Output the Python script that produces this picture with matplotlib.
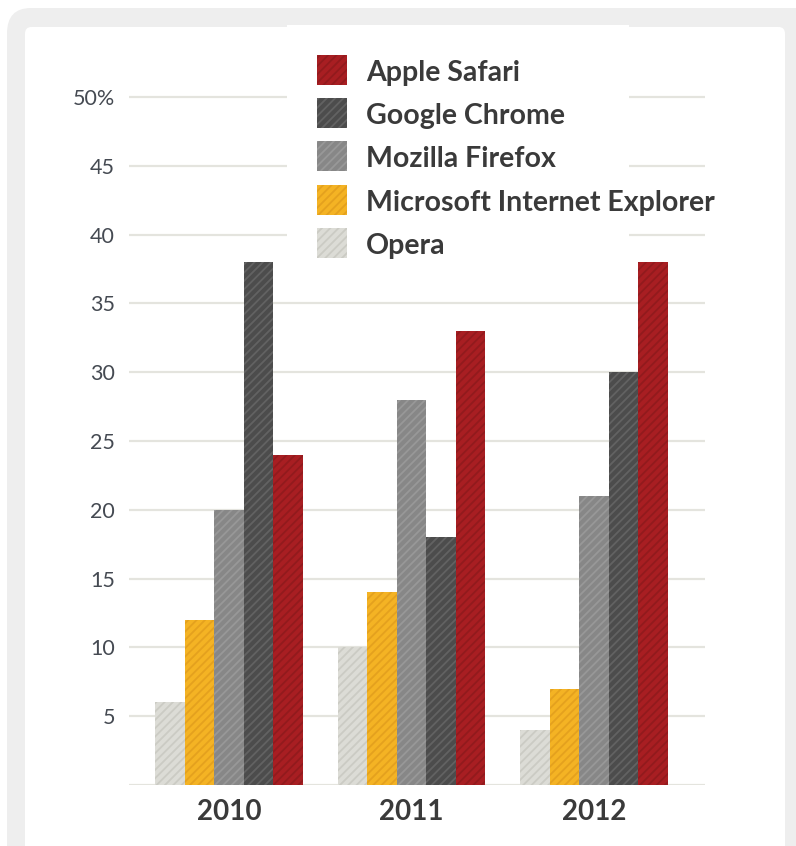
import matplotlib
matplotlib.use("Agg")
import matplotlib.pyplot as plt
from matplotlib.patches import Rectangle, FancyBboxPatch
import numpy as np

years = ["2010", "2011", "2012"]
browsers = ["Opera", "Microsoft Internet Explorer", "Mozilla Firefox", "Google Chrome", "Apple Safari"]
opera = [6, 10, 4]
ie = [12, 14, 7]
firefox = [20, 28, 21]
chrome = [38, 18, 30]
safari = [24, 33, 38]
series = [opera, ie, firefox, chrome, safari]
yticks = [0, 5, 10, 15, 20, 25, 30, 35, 40, 45, 50]
ytick_labels = ["", "5", "10", "15", "20", "25", "30", "35", "40", "45", "50%"]

face = ["#dcdcd6", "#f4b324", "#878787", "#4c4c4c", "#a81e22"]
hatchc = ["#cbcbc4", "#e4a11e", "#989898", "#626262", "#921a1d"]

plt.rcParams["font.family"] = ["Lato", "DejaVu Sans"]
plt.rcParams["hatch.linewidth"] = 1.3

W, H = 796, 846
fig = plt.figure(figsize=(W / 100, H / 100), dpi=100)
fig.patch.set_facecolor("white")

def fx(x):
    return x / W

def fy(y):
    return 1 - y / H

# frame
outer = FancyBboxPatch((fx(7), fy(900)), fx(850), (900 - 8) / H,
                       boxstyle="round,pad=0,rounding_size=0.03",
                       transform=fig.transFigure, facecolor="#eeeeee",
                       edgecolor="none", zorder=-20)
fig.add_artist(outer)
inner = FancyBboxPatch((fx(25), fy(900)), fx(785 - 25), (900 - 27) / H,
                       boxstyle="round,pad=0,rounding_size=0.008",
                       transform=fig.transFigure, facecolor="white",
                       edgecolor="none", zorder=-19)
fig.add_artist(inner)

# axes: value 0 at y=785, 13.76 px per unit
ppu = 688 / 50
ymax = 52
top_px = 785 - ymax * ppu
ax = fig.add_axes([fx(129), fy(785), fx(705 - 129), (785 - top_px) / H])
ax.patch.set_alpha(0)
ax.set_ylim(0, ymax)
gs = 182.5
ax.set_xlim(-100 / gs, (705 - 229) / gs)

w = 29.6 / gs
x = np.arange(len(years))
for i, vals in enumerate(series):
    ax.bar(x + (i - 2) * w, vals, width=w, color=face[i], edgecolor=hatchc[i],
           linewidth=0, hatch="////", zorder=3)

ax.set_yticks(yticks)
ax.set_yticklabels(ytick_labels, fontsize=15.5, color="#454a52")
ax.set_xticks(x)
ax.set_xticklabels(years, fontsize=20, fontweight="bold", color="#3a3a3a")
ax.tick_params(axis="both", length=0)
ax.tick_params(axis="y", pad=10)
ax.tick_params(axis="x", pad=10)
ax.yaxis.grid(True, color="#e4e4de", linewidth=1.6, zorder=0)
ax.set_axisbelow(True)
for s in ax.spines.values():
    s.set_visible(False)

# legend white box
box = Rectangle((fx(287), fy(262)), fx(629 - 287), (262 - 25) / H,
                transform=fig.transFigure, facecolor="white", edgecolor="none", zorder=2)
fig.add_artist(box)

leg_order = [4, 3, 2, 1, 0]
for k, i in enumerate(leg_order):
    top = 55 + k * 43.2
    r = Rectangle((fx(317), fy(top + 30)), fx(30), 30 / H, transform=fig.transFigure,
                  facecolor=face[i], edgecolor=hatchc[i], linewidth=0, hatch="////", zorder=3)
    fig.add_artist(r)
    fig.text(fx(366), fy(top + 18), browsers[i], fontsize=20.5, fontweight="bold",
             color="#3a3a3a", va="center", ha="left", zorder=4)

fig.savefig("out.png", dpi=100)
